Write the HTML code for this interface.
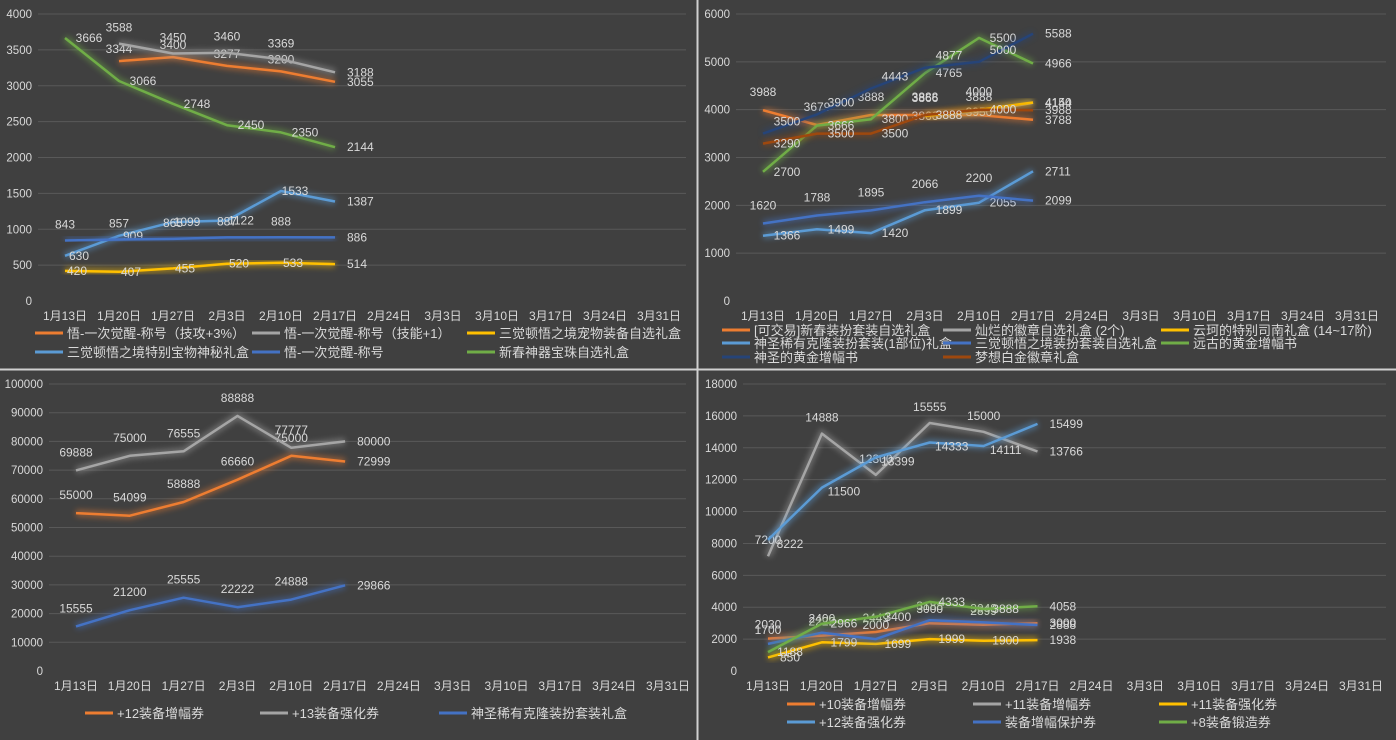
<!DOCTYPE html>
<html><head><meta charset="utf-8">
<style>
body{margin:0;background:#404040;}
svg{display:block;}
text{font-family:"Liberation Sans","Noto Sans CJK SC",sans-serif;}
</style></head><body>
<svg id="c" width="1396" height="740" viewBox="0 0 1396 740">
<defs><filter id="glow" x="-10%" y="-30%" width="120%" height="160%"><feGaussianBlur stdDeviation="3"/></filter></defs>
<rect x="0" y="0" width="1396" height="740" fill="#404040"/>
<line x1="697.5" y1="0" x2="697.5" y2="740" stroke="#d0d0d0" stroke-width="2"/>
<line x1="0" y1="369.5" x2="1396" y2="369.5" stroke="#d0d0d0" stroke-width="2"/>
</svg>
<script>
const dates=["1月13日","1月20日","1月27日","2月3日","2月10日","2月17日","2月24日","3月3日","3月10日","3月17日","3月24日","3月31日"];
const C={orange:"#ed7d31",gray:"#a5a5a5",yellow:"#ffc000",lblue:"#5b9bd5",blue:"#4472c4",green:"#70ad47",navy:"#264478",dorange:"#9e480e"};

// Panel 1
const p1Names=["悟-一次觉醒-称号（技攻+3%）","悟-一次觉醒-称号（技能+1）","三觉顿悟之境宠物装备自选礼盒","三觉顿悟之境特别宝物神秘礼盒","悟-一次觉醒-称号","新春神器宝珠自选礼盒"];
const p1A=[null,3344,3400,3277,3200,3055];
const p1B=[null,3588,3450,3460,3369,3188];
const p1C=[420,407,455,520,533,514];
const p1D=[630,909,1099,1122,1533,1387];
const p1E=[843,857,865,887,888,886];
const p1F=[3666,3066,2748,2450,2350,2144];
const p1Ticks=[0,500,1000,1500,2000,2500,3000,3500,4000];
// Panel 2
const p2Names=["[可交易]新春装扮套装自选礼盒","灿烂的徽章自选礼盒 (2个)","云珂的特别司南礼盒 (14~17阶)","神圣稀有克隆装扮套装(1部位)礼盒","三觉顿悟之境装扮套装自选礼盒","远古的黄金增幅书","神圣的黄金增幅书","梦想白金徽章礼盒"];
const p2A=[3988,3679,3888,3888,3888,3788];
const p2B=[null,null,null,3866,3950,4144];
const p2C=[null,null,null,3866,4000,4150];
const p2D=[1366,1499,1420,1899,2055,2711];
const p2E=[1620,1788,1895,2066,2200,2099];
const p2F=[2700,3666,3800,4765,5500,4966];
const p2G=[3500,3900,4443,4877,5000,5588];
const p2H=[3290,3500,3500,3888,4000,3988];
const p2Ticks=[0,1000,2000,3000,4000,5000,6000];
// Panel 3
const p3Names=["+12装备增幅券","+13装备强化券","神圣稀有克隆装扮套装礼盒"];
const p3A=[55000,54099,58888,66660,75000,72999];
const p3B=[69888,75000,76555,88888,77777,80000];
const p3C=[15555,21200,25555,22222,24888,29866];
const p3Ticks=[0,10000,20000,30000,40000,50000,60000,70000,80000,90000,100000];
// Panel 4
const p4Names=["+10装备增幅券","+11装备增幅券","+11装备强化券","+12装备强化券","装备增幅保护券","+8装备锻造券"];
const p4A=[2030,2222,2449,3000,2899,3000];
const p4B=[7200,14888,12300,15555,15000,13766];
const p4C=[850,1799,1699,1999,1900,1938];
const p4D=[8222,11500,13399,14333,14111,15499];
const p4E=[1700,2400,2000,3188,3048,2888];
const p4F=[1188,2966,3400,4333,3888,4058];
const p4Ticks=[0,2000,4000,6000,8000,10000,12000,14000,16000,18000];

const svg=document.getElementById('c');
const NS="http://www.w3.org/2000/svg";
function mk(t,a,parent){const e=document.createElementNS(NS,t);for(const k in a)e.setAttribute(k,a[k]);(parent||svg).appendChild(e);return e;}

function panel(cfg){
  const g=mk('g',{});
  
  
  const max=cfg.ticks[cfg.ticks.length-1];
  const yS=v=>cfg.y0-(v/max)*(cfg.y0-cfg.yTop);
  const xS=i=>cfg.x0+i*(cfg.x1-cfg.x0)/(dates.length-1);
  cfg.ticks.forEach(t=>{
    const y=yS(t);
    if(t>0){const l=mk('line',{x1:cfg.gl,x2:cfg.gr,y1:y,y2:y,stroke:'#595959','stroke-width':1},g);
      }
    const tx=mk('text',{x:cfg.gl-6,y:y+4,'text-anchor':'end','font-size':11.5,fill:'#d9d9d9'},g);
    tx.textContent=t;
    
  });
  dates.forEach((d,i)=>{
    const tx=mk('text',{x:xS(i),y:cfg.y0+19,'text-anchor':'middle','font-size':12,fill:'#d9d9d9'},g);
    tx.textContent=d;
    
  });
  cfg.series.forEach((s,si)=>{
    const pts=[];s.data.forEach((v,i)=>{if(v!==null)pts.push([xS(i),yS(v),v]);});
    const ps=pts.map(p=>p[0].toFixed(1)+','+p[1].toFixed(1)).join(' ');
    const gl=mk('polyline',{points:ps,fill:'none',stroke:s.color,'stroke-width':7,opacity:0.45,filter:'url(#glow)'},g);
    
    const pl=mk('polyline',{points:ps,fill:'none',stroke:s.color,'stroke-width':2.5,'stroke-linejoin':'round'},g);
    
    pts.forEach((p,k)=>{
      const last=k===pts.length-1;
      const lx=last?p[0]+12:p[0]+(s.dx||0);
      const ly=last?p[1]+4:p[1]+(s.dy!==undefined?s.dy:-12);
      const tx=mk('text',{x:lx,y:ly,'text-anchor':last?'start':'middle','font-size':12,fill:'#d9d9d9'},g);
      tx.textContent=p[2];
      
    });
    const L=cfg.legend[si];
    const lg=mk('g',{},g);
    
    mk('line',{x1:L[0],x2:L[0]+28,y1:L[1],y2:L[1],stroke:s.color,'stroke-width':3},lg);
    const lt=mk('text',{x:L[0]+32,y:L[1]+5,'font-size':13,fill:'#d9d9d9'},lg);
    lt.textContent=cfg.names[si];
  });
}

panel({name:'chart-title-awakening',ticks:p1Ticks,y0:301,yTop:14,x0:65,x1:659,gl:38,gr:686,names:p1Names,
 series:[{data:p1A,color:C.orange,dy:-8},{data:p1B,color:C.gray,dy:-12},{data:p1C,color:C.yellow,dx:12,dy:4},{data:p1D,color:C.lblue,dx:14,dy:4},{data:p1E,color:C.blue,dy:-12},{data:p1F,color:C.green,dx:24,dy:4}],
 legend:[[35,333],[252,333],[467,333],[35,352],[252,352],[467,352]]});
panel({name:'chart-gift-boxes',ticks:p2Ticks,y0:301,yTop:14,x0:763,x1:1357,gl:736,gr:1386,names:p2Names,
 series:[{data:p2A,color:C.orange,dy:-14},{data:p2B,color:C.gray,dy:4},{data:p2C,color:C.yellow,dy:-14},{data:p2D,color:C.lblue,dx:24,dy:4},{data:p2E,color:C.blue,dy:-14},{data:p2F,color:C.green,dx:24,dy:4},{data:p2G,color:C.navy,dx:24,dy:-8},{data:p2H,color:C.dorange,dx:24,dy:4}],
 legend:[[722,330],[943,330],[1161,330],[722,343],[943,343],[1161,343],[722,357],[943,357]]});
panel({name:'chart-amplify-tickets',ticks:p3Ticks,y0:671,yTop:384,x0:76,x1:668,gl:49,gr:686,names:p3Names,
 series:[{data:p3A,color:C.orange,dy:-14},{data:p3B,color:C.gray,dy:-14},{data:p3C,color:C.blue,dy:-14}],
 legend:[[85,713],[260,713],[439,713]]});
panel({name:'chart-enhance-tickets',ticks:p4Ticks,y0:671,yTop:384,x0:768,x1:1361,gl:743,gr:1386,names:p4Names,
 series:[{data:p4A,color:C.orange,dy:-10},{data:p4B,color:C.gray,dy:-12},{data:p4C,color:C.yellow,dx:22,dy:4},{data:p4D,color:C.lblue,dx:22,dy:8},{data:p4E,color:C.blue,dy:-10},{data:p4F,color:C.green,dx:22,dy:4}],
 legend:[[787,704],[973,704],[1159,704],[787,722],[973,722],[1159,722]]});
</script>
</body></html>
